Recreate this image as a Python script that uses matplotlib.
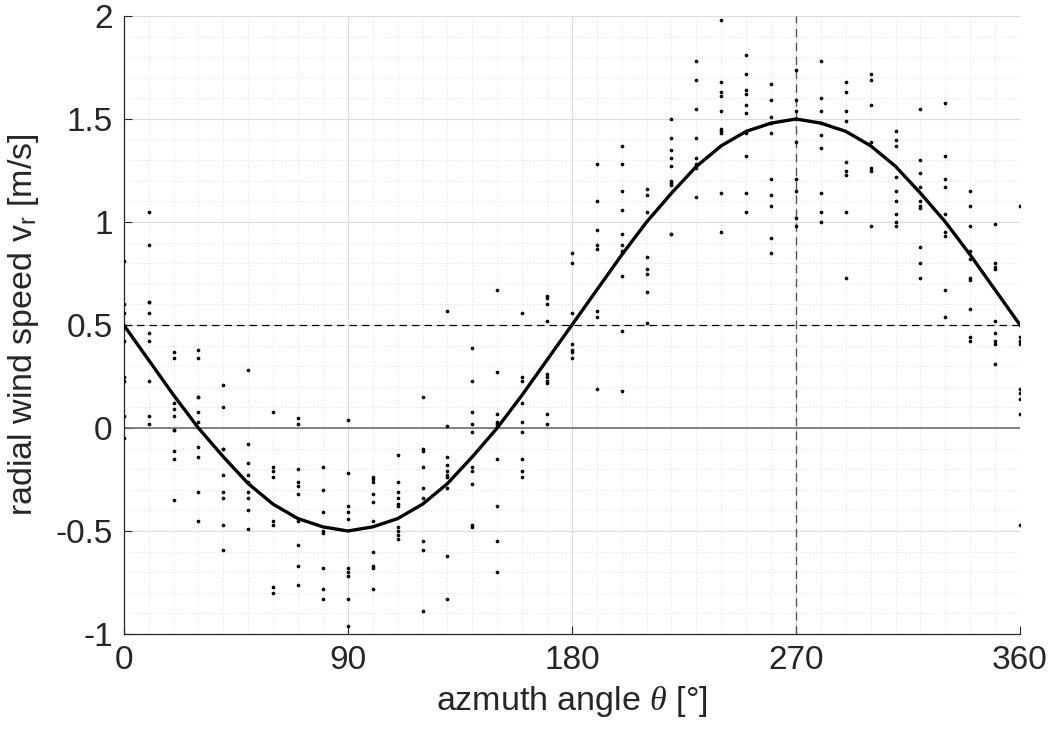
import matplotlib
matplotlib.use("Agg")
import matplotlib.pyplot as plt
import numpy as np
from matplotlib.ticker import MultipleLocator

plt.rcParams['font.family'] = ['Liberation Sans', 'DejaVu Sans']
plt.rcParams['axes.unicode_minus'] = False
plt.rcParams['mathtext.fontset'] = 'custom'
plt.rcParams['mathtext.rm'] = 'Liberation Sans'
plt.rcParams['mathtext.it'] = 'Liberation Serif:italic'

# measured radial speeds, one list per azimuth bin (10 deg steps)
az_bins = [0, 10, 20, 30, 40, 50, 60, 70, 80, 90, 100, 110, 120, 130, 140, 150, 160, 170, 180,
           190, 200, 210, 220, 230, 240, 250, 260, 270, 280, 290, 300, 310, 320, 330, 340, 350, 360]
vr_meas = [
    [0.81, 0.60, 0.56, 0.49, 0.42, 0.25, 0.23, 0.06, -0.05],
    [1.05, 0.89, 0.61, 0.61, 0.56, 0.46, 0.42, 0.23, 0.06, 0.02],
    [0.37, 0.34, 0.12, 0.09, 0.06, -0.01, -0.01, -0.11, -0.15, -0.35],
    [0.38, 0.34, 0.15, 0.15, 0.08, 0.03, -0.09, -0.14, -0.31, -0.45],
    [0.21, 0.10, -0.10, -0.10, -0.23, -0.31, -0.34, -0.47, -0.59],
    [0.28, -0.08, -0.17, -0.23, -0.26, -0.31, -0.34, -0.40, -0.49],
    [0.08, -0.19, -0.21, -0.24, -0.45, -0.47, -0.77, -0.80],
    [0.05, 0.02, -0.20, -0.26, -0.28, -0.32, -0.45, -0.57, -0.67, -0.76],
    [-0.19, -0.30, -0.41, -0.50, -0.51, -0.68, -0.78, -0.83],
    [0.04, -0.22, -0.38, -0.41, -0.44, -0.68, -0.70, -0.72, -0.83, -0.96],
    [-0.24, -0.25, -0.26, -0.32, -0.36, -0.45, -0.60, -0.67, -0.68, -0.78],
    [-0.13, -0.26, -0.31, -0.34, -0.37, -0.38, -0.48, -0.50, -0.52, -0.54],
    [0.15, -0.10, -0.11, -0.19, -0.29, -0.34, -0.55, -0.59, -0.89],
    [0.57, 0.01, -0.14, -0.18, -0.21, -0.23, -0.24, -0.29, -0.62, -0.83],
    [0.39, 0.23, 0.08, 0.02, -0.02, -0.19, -0.21, -0.27, -0.47, -0.48],
    [0.67, 0.27, 0.07, 0.03, 0.02, 0.01, -0.15, -0.38, -0.55, -0.70],
    [0.56, 0.25, 0.23, 0.12, 0.03, -0.02, -0.15, -0.21, -0.24],
    [0.64, 0.63, 0.60, 0.52, 0.26, 0.25, 0.23, 0.22, 0.07, 0.02],
    [0.85, 0.80, 0.56, 0.41, 0.38, 0.37, 0.34],
    [1.28, 1.10, 0.96, 0.89, 0.87, 0.57, 0.54, 0.19],
    [1.37, 1.28, 1.15, 1.06, 0.94, 0.89, 0.86, 0.85, 0.74, 0.47, 0.18],
    [1.16, 1.13, 1.05, 0.83, 0.77, 0.75, 0.66, 0.51],
    [1.50, 1.41, 1.35, 1.31, 1.27, 1.20, 1.19, 1.18, 0.94, 0.94],
    [1.78, 1.69, 1.55, 1.41, 1.31, 1.28, 1.27, 1.26, 1.12],
    [1.98, 1.68, 1.63, 1.61, 1.54, 1.45, 1.44, 1.43, 1.14, 0.95],
    [1.81, 1.72, 1.64, 1.62, 1.57, 1.53, 1.44, 1.43, 1.32, 1.14, 1.05],
    [1.67, 1.59, 1.51, 1.48, 1.43, 1.21, 1.13, 1.08, 0.92, 0.85],
    [1.74, 1.59, 1.54, 1.50, 1.39, 1.21, 1.15, 1.02, 0.98],
    [1.78, 1.60, 1.54, 1.48, 1.42, 1.36, 1.14, 1.05, 1.00],
    [1.68, 1.63, 1.54, 1.49, 1.29, 1.25, 1.23, 1.05, 0.73],
    [1.72, 1.69, 1.57, 1.39, 1.26, 1.25, 0.98],
    [1.44, 1.40, 1.37, 1.22, 1.15, 1.10, 1.04, 1.00, 0.98],
    [1.55, 1.30, 1.24, 1.17, 1.10, 1.08, 1.07, 0.88, 0.80, 0.73],
    [1.58, 1.32, 1.21, 1.17, 1.04, 0.95, 0.93, 0.67, 0.54],
    [1.15, 1.08, 0.98, 0.86, 0.82, 0.73, 0.72, 0.58, 0.44, 0.42],
    [0.99, 0.80, 0.78, 0.77, 0.52, 0.46, 0.42, 0.41, 0.31],
    [1.08, 0.44, 0.42, 0.41, 0.19, 0.17, 0.14, 0.07, -0.47],
]

# fitted curve values at the bin centres
vr_fit = [0.50, 0.33, 0.16, 0.00, -0.14, -0.27, -0.37, -0.44, -0.48, -0.50, -0.48, -0.44, -0.37,
          -0.27, -0.14, 0.00, 0.16, 0.33, 0.50, 0.67, 0.84, 1.00, 1.14, 1.27, 1.37, 1.44, 1.48,
          1.50, 1.48, 1.44, 1.37, 1.27, 1.14, 1.00, 0.84, 0.67, 0.50]

x_ticks = [0, 90, 180, 270, 360]
y_ticks = [-1, -0.5, 0, 0.5, 1, 1.5, 2]
y_tick_labels = ['-1', '-0.5', '0', '0.5', '1', '1.5', '2']

fig = plt.figure(figsize=(10.54, 7.31), dpi=100)
ax = fig.add_axes([0.1174, 0.1327, 0.8504, 0.8454])

ax.minorticks_on()
ax.xaxis.set_minor_locator(MultipleLocator(10))
ax.yaxis.set_minor_locator(MultipleLocator(0.1))
ax.grid(True, which='major', color='#dcdcdc', linewidth=0.8, linestyle='-')
ax.grid(True, which='minor', color='#e2e2e2', linewidth=0.7, linestyle=(0, (1, 2)))
ax.set_axisbelow(True)

xs = []
ys = []
for a, vals in zip(az_bins, vr_meas):
    xs += [a] * len(vals)
    ys += vals
ax.scatter(xs, ys, s=7, color='black', linewidths=0, zorder=3)

ax.axhline(0, color='#6e6e6e', linewidth=1.2, zorder=2)
ax.axhline(0.5, color='black', linewidth=0.9, linestyle=(0, (6, 4)), zorder=2)
ax.axvline(270, color='#555555', linewidth=1.0, linestyle=(0, (6, 4)), zorder=2)
ax.plot(az_bins, vr_fit, color='black', linewidth=2.4, zorder=4)

ax.set_xlim(0, 360)
ax.set_ylim(-1, 2)
ax.set_xticks(x_ticks)
ax.set_yticks(y_ticks)
ax.set_yticklabels(y_tick_labels)
ax.tick_params(which='major', direction='in', length=6, width=0.8, labelsize=24,
               colors='#262626', pad=8)
ax.tick_params(which='minor', length=0)

for side in ['top', 'right']:
    ax.spines[side].set_visible(False)
for side in ['left', 'bottom']:
    ax.spines[side].set_color('#262626')
    ax.spines[side].set_linewidth(0.9)

ax.set_xlabel(r'azmuth angle $\it{\theta}$ [°]', fontsize=24.5, color='#262626', labelpad=6)
ax.set_ylabel(r'radial wind speed v$_\mathregular{r}$ [m/s]', fontsize=24.5, color='#262626', labelpad=10)

fig.savefig('out.png', dpi=100)
